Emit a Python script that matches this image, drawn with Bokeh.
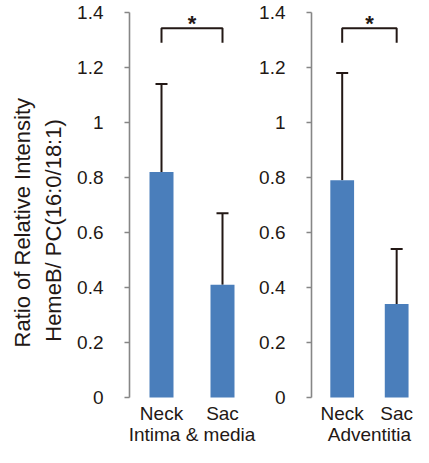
import math
from bokeh.plotting import figure
from bokeh.layouts import row
from bokeh.models import Range1d, FixedTicker, Whisker, TeeHead, ColumnDataSource
from bokeh.core.properties import value
from bokeh.embed import file_html
from bokeh.resources import INLINE

# ---- data ----
categories = ["Neck", "Sac"]
groups = ["Intima & media", "Adventitia"]
means_intima = [0.82, 0.41]
sd_intima = [0.32, 0.26]
means_adv = [0.79, 0.34]
sd_adv = [0.39, 0.20]
y_ticks = [0, 0.2, 0.4, 0.6, 0.8, 1, 1.2, 1.4]
y_tick_labels = ["0", "0.2", "0.4", "0.6", "0.8", "1", "1.2", "1.4"]
sig_label = "*"
y_label_lines = ["Ratio of Relative Intensity", "HemeB/ PC(16:0/18:1)"]

# ---- style / layout ----
FONT = "Liberation Sans"
TXT = "#231815"
BAR = "#4A7EBB"
AXIS = "#868686"
H = 447
Y_TOP_PX = 12      # pixel of y = 1.4
Y_ZERO_PX = 397    # pixel of y = 0
PX_PER_Y = (Y_ZERO_PX - Y_TOP_PX) / 1.4
Y_START = -(H - Y_ZERO_PX) / PX_PER_Y


def make_panel(width, border_left, px_per_x, first_px, means, sds, group):
    xs = [i + 1 for i in range(len(categories))]
    frame_w = width - border_left
    x0 = 1 - (first_px - border_left) / px_per_x
    p = figure(width=width, height=H,
               x_range=Range1d(x0, x0 + frame_w / px_per_x),
               y_range=Range1d(Y_START, 1.4),
               output_backend="svg", toolbar_location=None,
               x_axis_location=None,
               min_border_left=border_left, min_border_right=0,
               min_border_top=Y_TOP_PX, min_border_bottom=0)
    p.outline_line_color = None
    p.grid.visible = False
    p.background_fill_color = "white"
    p.border_fill_color = "white"

    ax = p.yaxis[0]
    ax.bounds = (0, 1.4)
    ax.ticker = FixedTicker(ticks=y_ticks)
    ax.major_label_overrides = dict(zip(y_ticks, y_tick_labels))
    ax.axis_line_color = AXIS
    ax.axis_line_width = 1.6
    ax.major_tick_line_color = AXIS
    ax.major_tick_line_width = 1.6
    ax.major_tick_in = 0
    ax.major_tick_out = 5
    ax.minor_tick_line_color = None
    ax.major_label_standoff = 21
    ax.major_label_text_font = FONT
    ax.major_label_text_font_size = "19px"
    ax.major_label_text_color = TXT

    src = ColumnDataSource(dict(
        x=xs, top=means, lower=means,
        upper=[m + s for m, s in zip(means, sds)],
        cat=categories))
    p.vbar(x="x", top="top", bottom=0, width=24 / px_per_x, source=src,
           fill_color=BAR, line_color=None)
    p.add_layout(Whisker(base="x", upper="upper", lower="lower", source=src,
                         line_color=TXT, line_width=2,
                         upper_head=TeeHead(size=12, line_color=TXT, line_width=2),
                         lower_head=None))

    # significance bracket
    lo, hi = 1.29, 1.343
    p.line(x=[xs[0], xs[0], xs[1], xs[1]], y=[lo, hi, hi, lo],
           line_color=TXT, line_width=2)
    p.text(x=[(xs[0] + xs[1]) / 2], y=[1.36], text=[sig_label],
           text_align="center", text_baseline="middle",
           text_font=value(FONT), text_font_size="22px",
           text_font_style="bold", text_color=TXT)

    # category labels and group label below the bars
    p.text(x="x", y=-(413 - Y_ZERO_PX) / PX_PER_Y, text="cat", source=src,
           text_align="center", text_baseline="alphabetic",
           text_font=value(FONT), text_font_size="19px", text_color=TXT)
    p.text(x=[(xs[0] + xs[-1]) / 2], y=[-(434 - Y_ZERO_PX) / PX_PER_Y],
           text=[group], text_align="center", text_baseline="alphabetic",
           text_font=value(FONT), text_font_size="19px", text_color=TXT)
    return p


# y-axis title panel (two rotated lines)
LW = 70
pL = figure(width=LW, height=H, x_range=Range1d(0, LW), y_range=Range1d(0, H),
            output_backend="svg", toolbar_location=None,
            x_axis_location=None, y_axis_location=None,
            min_border_left=0, min_border_right=0,
            min_border_top=0, min_border_bottom=0)
pL.outline_line_color = None
pL.grid.visible = False
pL.text(x=[22, 53], y=[H - 216, H - 224], text=y_label_lines,
        angle=math.pi / 2, text_align="center", text_baseline="middle",
        text_font=value(FONT), text_font_size="22px", text_color=TXT)

pA = make_panel(256 - LW, 129 - LW, 61.0, 161 - LW, means_intima, sd_intima, groups[0])
pB = make_panel(157, 54, 55.0, 341 - 256, means_adv, sd_adv, groups[1])

layout = row(pL, pA, pB, spacing=0)
open("out.html", "w").write(file_html(layout, INLINE))
